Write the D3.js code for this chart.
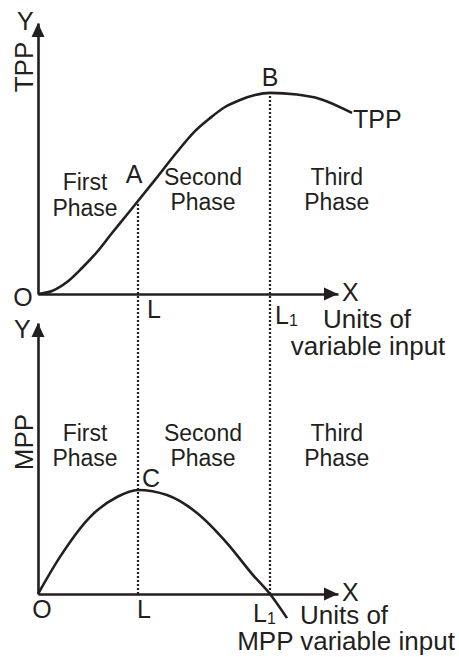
<!DOCTYPE html>
<html>
<head>
<meta charset="utf-8">
<script src="https://cdn.jsdelivr.net/npm/d3@7"></script>
<style>
  body { margin: 0; background: #fff; }
  svg { display: block; font-family: "Liberation Sans", Arial, sans-serif; }
  text { fill: #231f20; }
  .phase { font-size: 23px; }
  .lbl { font-size: 25px; }
  .ttl { font-size: 26px; }
</style>
</head>
<body>
<svg width="459" height="657"></svg>
<script>
// values (x in input units, y in output units 0..100)
const tppX = [0, 0.56, 1.16, 1.76, 2.36, 2.96, 3.48, 4, 4.68, 5.56, 6.28, 6.88, 7.48, 8.08, 8.68, 9.28, 10.36, 11.28, 12.56];
const tppY = [0, 1.1, 4.4, 9.6, 15.5, 22.5, 28.4, 34.3, 42.1, 52.4, 60.1, 64.9, 69, 71.6, 73.4, 74.2, 73.6, 72, 66.8];
const mppX = [0, 0.88, 2.08, 3.16, 4, 5.16, 6.36, 7.56, 8.6, 9.28, 9.96];
const mppY = [0, 13.7, 28.4, 35.8, 38.4, 36.5, 29.9, 18.8, 7.0, 0, -8.9];
const markX = [4, 9.28];          // L, L1
const markNames = ["L", "L"];
const markSubs = ["", "1"];
const phaseLines = [["First", "Phase"], ["Second", "Phase"], ["Third", "Phase"]];

const svg = d3.select("svg");
const ink = "#231f20";

const x = d3.scaleLinear().domain([0, 12]).range([38, 338]);
const yTop = d3.scaleLinear().domain([0, 100]).range([294, 23]);
const yBot = d3.scaleLinear().domain([0, 100]).range([594, 323]);

function axes(y) {
  const y0 = y(0), yMax = y.range()[1];
  svg.append("g")
    .attr("transform", `translate(0,${y0})`)
    .call(d3.axisBottom(x).tickValues([]).tickSizeOuter(0))
    .select(".domain").attr("stroke", ink).attr("stroke-width", 2.6);
  svg.append("g")
    .attr("transform", `translate(${x(0)},0)`)
    .call(d3.axisLeft(y).tickValues([]).tickSizeOuter(0))
    .select(".domain").attr("stroke", ink).attr("stroke-width", 2.6);
  const xe = x.range()[1];
  svg.append("path")
    .attr("d", `M${xe},${y0} L${xe - 14},${y0 - 6.5} L${xe - 14},${y0 + 6.5} Z`)
    .attr("fill", ink);
  const xa = x(0);
  svg.append("path")
    .attr("d", `M${xa},${yMax} L${xa - 6.5},${yMax + 14} L${xa + 6.5},${yMax + 14} Z`)
    .attr("fill", ink);
}

function txt(cls, px, py, s, anchor) {
  return svg.append("text").attr("class", cls)
    .attr("x", px).attr("y", py)
    .attr("text-anchor", anchor || "middle")
    .text(s);
}

// dotted guides through both panels
const tppAt = v => tppY[tppX.indexOf(v)];
markX.forEach(v => {
  svg.append("line")
    .attr("x1", x(v)).attr("x2", x(v))
    .attr("y1", yTop(tppAt(v)) + 3).attr("y2", yBot(0))
    .attr("stroke", ink).attr("stroke-width", 2.2)
    .attr("stroke-dasharray", "2,2");
});

axes(yTop);
axes(yBot);

const line = (xs, ys, y) => d3.line()
  .x((d, i) => x(xs[i]))
  .y(d => y(d))
  .curve(d3.curveMonotoneX)(ys);

svg.append("path").attr("d", line(tppX, tppY, yTop))
  .attr("fill", "none").attr("stroke", ink).attr("stroke-width", 2.6);
svg.append("path").attr("d", line(mppX, mppY, yBot))
  .attr("fill", "none").attr("stroke", ink).attr("stroke-width", 2.6);

// phase labels
const phaseCx = [1.88, 6.6, 11.95];
phaseLines.forEach((p, i) => {
  txt("phase", x(phaseCx[i]), i === 0 ? 190 : 185, p[0]);
  txt("phase", x(phaseCx[i]), i === 0 ? 216 : 210, p[1]);
  txt("phase", x(phaseCx[i]), 441, p[0]);
  txt("phase", x(phaseCx[i]), 466, p[1]);
});

// top panel labels
txt("lbl", 17, 30, "Y", "start");
svg.append("text").attr("class", "ttl")
  .attr("transform", "translate(33,67) rotate(-90)")
  .attr("text-anchor", "middle").text("TPP");
txt("lbl", 23, 306, "O");
txt("lbl", 342, 301, "X", "start");
txt("lbl", 134, 183, "A");
txt("lbl", 270, 86, "B");
txt("lbl", 353, 128, "TPP", "start");
txt("ttl", 367, 328, "Units of");
txt("ttl", 368, 355, "variable input");

// bottom panel labels
txt("lbl", 14, 338, "Y", "start");
svg.append("text").attr("class", "ttl")
  .attr("transform", "translate(33,442) rotate(-90)")
  .attr("text-anchor", "middle").text("MPP");
txt("lbl", 42, 618, "O");
txt("lbl", 342, 601, "X", "start");
txt("lbl", 151, 487, "C");
txt("ttl", 344, 624, "Units of");
txt("ttl", 346, 650, "MPP variable input");

// L and L1 marks
const markTop = [318, 324];
const markBot = [618, 622];
markX.forEach((v, i) => {
  const offTop = i === 0 ? 9 : 5;
  const offBot = i === 0 ? -1 : -17;
  [[markTop[i], offTop], [markBot[i], offBot]].forEach(([py, off]) => {
    const t = svg.append("text").attr("class", "lbl")
      .attr("x", x(v) + off).attr("y", py);
    t.append("tspan").text(markNames[i]);
    if (markSubs[i]) t.append("tspan").attr("font-size", 16).attr("dy", 2).text(markSubs[i]);
  });
});
</script>
</body>
</html>
